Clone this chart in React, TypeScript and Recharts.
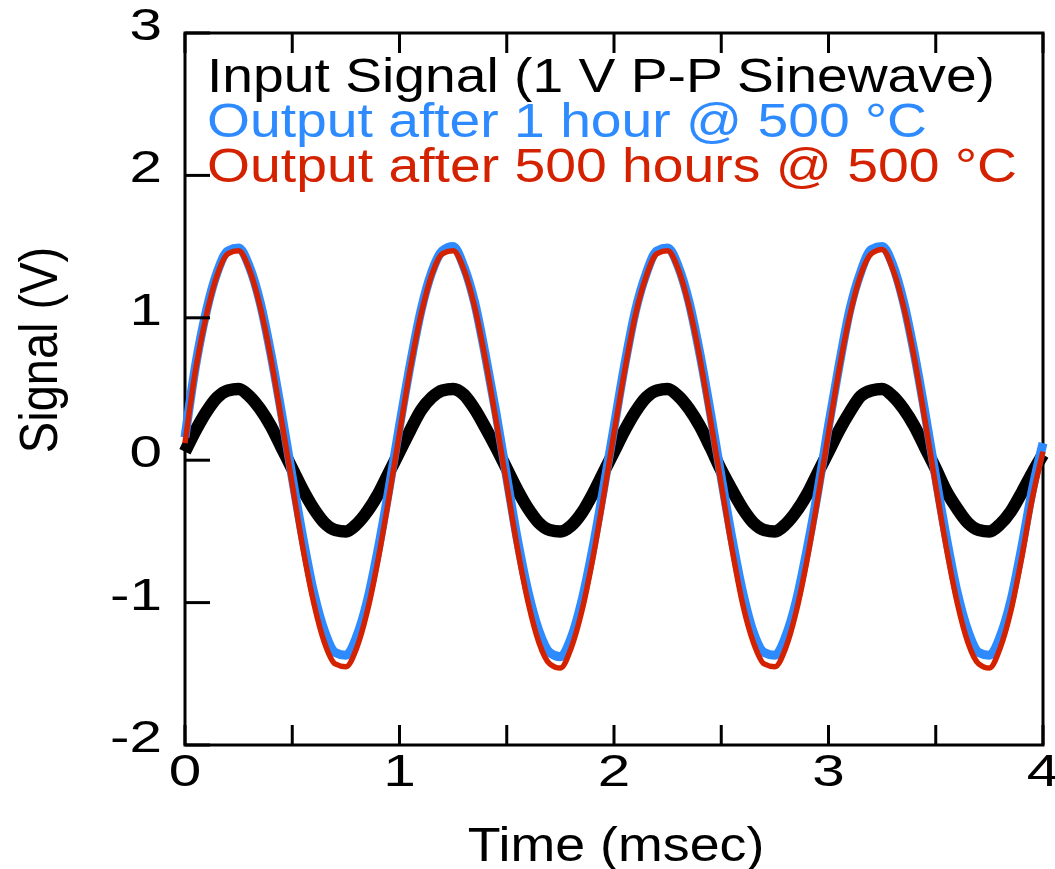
import { Line, LineChart, ReferenceArea, XAxis, YAxis } from 'recharts'

// time base, msec
const timeMs = [
  0, 0.05, 0.1, 0.15, 0.2, 0.25, 0.3, 0.35, 0.4, 0.45, 0.5, 0.55, 0.6, 0.65, 0.7, 0.75, 0.8, 0.85, 0.9, 0.95,
  1, 1.05, 1.1, 1.15, 1.2, 1.25, 1.3, 1.35, 1.4, 1.45, 1.5, 1.55, 1.6, 1.65, 1.7, 1.75, 1.8, 1.85, 1.9, 1.95,
  2, 2.05, 2.1, 2.15, 2.2, 2.25, 2.3, 2.35, 2.4, 2.45, 2.5, 2.55, 2.6, 2.65, 2.7, 2.75, 2.8, 2.85, 2.9, 2.95,
  3, 3.05, 3.1, 3.15, 3.2, 3.25, 3.3, 3.35, 3.4, 3.45, 3.5, 3.55, 3.6, 3.65, 3.7, 3.75, 3.8, 3.85, 3.9, 3.95,
  4,
]

// volts
const inputSignal = [
  0.06, 0.21, 0.34, 0.44, 0.49, 0.5, 0.45, 0.36, 0.24, 0.09, -0.06, -0.21, -0.34, -0.44, -0.49, -0.5, -0.45, -0.36, -0.24, -0.09,
  0.06, 0.21, 0.35, 0.44, 0.49, 0.5, 0.46, 0.36, 0.23, 0.09, -0.06, -0.21, -0.34, -0.44, -0.49, -0.5, -0.46, -0.37, -0.24, -0.09,
  0.06, 0.21, 0.34, 0.44, 0.49, 0.5, 0.45, 0.36, 0.24, 0.09, -0.07, -0.21, -0.34, -0.44, -0.49, -0.5, -0.45, -0.36, -0.24, -0.09,
  0.06, 0.21, 0.34, 0.45, 0.49, 0.5, 0.45, 0.36, 0.24, 0.09, -0.06, -0.22, -0.34, -0.44, -0.49, -0.5, -0.45, -0.36, -0.23, -0.09,
  0.04,
]

const output1h = [
  0.16, 0.67, 1.05, 1.32, 1.47, 1.49, 1.36, 1.11, 0.75, 0.33, -0.12, -0.55, -0.93, -1.2, -1.35, -1.37, -1.24, -0.99, -0.63, -0.21,
  0.24, 0.67, 1.05, 1.32, 1.47, 1.5, 1.36, 1.11, 0.74, 0.33, -0.12, -0.56, -0.93, -1.2, -1.35, -1.38, -1.25, -0.99, -0.63, -0.21,
  0.23, 0.67, 1.05, 1.31, 1.47, 1.49, 1.36, 1.11, 0.75, 0.33, -0.12, -0.55, -0.93, -1.21, -1.35, -1.37, -1.24, -0.99, -0.63, -0.22,
  0.24, 0.67, 1.06, 1.32, 1.48, 1.5, 1.37, 1.11, 0.75, 0.33, -0.12, -0.55, -0.93, -1.2, -1.35, -1.37, -1.24, -0.99, -0.62, -0.21,
  0.12,
]

const output500h = [
  0.12, 0.64, 1.02, 1.3, 1.45, 1.47, 1.34, 1.08, 0.72, 0.28, -0.17, -0.62, -1.0, -1.28, -1.43, -1.45, -1.32, -1.06, -0.7, -0.27,
  0.19, 0.64, 1.02, 1.3, 1.45, 1.47, 1.34, 1.08, 0.71, 0.28, -0.17, -0.62, -1.0, -1.28, -1.43, -1.46, -1.32, -1.06, -0.7, -0.27,
  0.19, 0.63, 1.02, 1.29, 1.45, 1.47, 1.34, 1.08, 0.72, 0.28, -0.17, -0.62, -1.01, -1.28, -1.43, -1.45, -1.32, -1.06, -0.7, -0.27,
  0.19, 0.64, 1.02, 1.3, 1.45, 1.48, 1.34, 1.08, 0.72, 0.28, -0.18, -0.62, -1.0, -1.28, -1.43, -1.46, -1.32, -1.06, -0.69, -0.27,
  0.06,
]

const xTicks = [0, 0.5, 1, 1.5, 2, 2.5, 3, 3.5, 4]
const yTicks = [-2, -1, 0, 1, 2, 3]

const legendLines = [
  { text: 'Input Signal (1 V P-P Sinewave)', color: '#000000', width: 788 },
  { text: 'Output after 1 hour @ 500 °C', color: '#2E8BFF', width: 720 },
  { text: 'Output after 500 hours @ 500 °C', color: '#D42200', width: 810 },
]

const data = timeMs.map((t, i) => ({
  t,
  input: inputSignal[i],
  out1: output1h[i],
  out500: output500h[i],
}))

const FONT = '"Liberation Sans", Arial, Helvetica, sans-serif'
const TICK_STRETCH = 1.3

function BottomTick(props: any) {
  const { x, y, payload } = props
  const v = payload.value
  return (
    <g>
      <line x1={x} y1={y} x2={x} y2={y - 20} stroke="#000" strokeWidth={3} />
      {Number.isInteger(v) && (
        <text
          transform={`translate(${x},${y + 41}) scale(${TICK_STRETCH},1)`}
          textAnchor="middle"
          fontSize={45}
          fontFamily={FONT}
          fill="#000"
        >
          {v}
        </text>
      )}
    </g>
  )
}

function TopTick(props: any) {
  const { x, y } = props
  return <line x1={x} y1={y} x2={x} y2={y + 20} stroke="#000" strokeWidth={3} />
}

function LeftTick(props: any) {
  const { x, y, payload } = props
  return (
    <g>
      <line x1={x} y1={y} x2={x + 25} y2={y} stroke="#000" strokeWidth={3} />
      <text
        transform={`translate(${x - 23},${y + 7}) scale(${TICK_STRETCH},1)`}
        textAnchor="end"
        fontSize={45}
        fontFamily={FONT}
        fill="#000"
      >
        {payload.value}
      </text>
    </g>
  )
}

function RightTick(props: any) {
  const { x, y } = props
  return <line x1={x} y1={y} x2={x - 25} y2={y} stroke="#000" strokeWidth={3} />
}

export default function App() {
  return (
    <div style={{ position: 'absolute', left: 0, top: 0, width: 1055, height: 869, background: '#fff' }}>
      <LineChart width={1055} height={869} data={data} margin={{ top: 0, right: 0, bottom: 0, left: 0 }}>
        <XAxis
          dataKey="t"
          type="number"
          domain={[0, 4]}
          ticks={xTicks}
          interval={0}
          height={124}
          axisLine={false}
          tickLine={false}
          tickSize={0}
          tickMargin={0}
          tick={<BottomTick />}
        />
        <XAxis
          xAxisId="top"
          orientation="top"
          dataKey="t"
          type="number"
          domain={[0, 4]}
          ticks={xTicks}
          interval={0}
          height={33}
          axisLine={false}
          tickLine={false}
          tickSize={0}
          tickMargin={0}
          tick={<TopTick />}
        />
        <YAxis
          type="number"
          domain={[-2, 3]}
          ticks={yTicks}
          interval={0}
          width={185}
          axisLine={false}
          tickLine={false}
          tickSize={0}
          tickMargin={0}
          tick={<LeftTick />}
        />
        <YAxis
          yAxisId="r"
          orientation="right"
          type="number"
          domain={[-2, 3]}
          ticks={yTicks}
          interval={0}
          width={12}
          axisLine={false}
          tickLine={false}
          tickSize={0}
          tickMargin={0}
          tick={<RightTick />}
        />
        <ReferenceArea x1={0} x2={4} y1={-2} y2={3} fill="none" fillOpacity={0} stroke="#000" strokeWidth={3} />
        <Line
          dataKey="input"
          type="monotone"
          stroke="#000000"
          strokeWidth={12.5}
          dot={false}
          activeDot={false}
          isAnimationActive={false}
        />
        <Line
          dataKey="out1"
          type="monotone"
          stroke="#2E8BFF"
          strokeWidth={9}
          dot={false}
          activeDot={false}
          isAnimationActive={false}
        />
        <Line
          dataKey="out500"
          type="monotone"
          stroke="#D42200"
          strokeWidth={5.5}
          dot={false}
          activeDot={false}
          isAnimationActive={false}
        />
      </LineChart>
      <svg
        width={1055}
        height={869}
        style={{ position: 'absolute', left: 0, top: 0, pointerEvents: 'none' }}
      >
        {legendLines.map((l, i) => (
          <text
            key={l.text}
            x={207}
            y={92 + i * 45}
            fontSize={48}
            fontFamily={FONT}
            fill={l.color}
            textLength={l.width}
            lengthAdjust="spacingAndGlyphs"
          >
            {l.text}
          </text>
        ))}
        <text
          transform="translate(616,861) scale(1.12,1)"
          textAnchor="middle"
          fontSize={48}
          fontFamily={FONT}
          fill="#000"
        >
          Time (msec)
        </text>
        <text
          transform="translate(57,350) scale(1.14,1) rotate(-90)"
          textAnchor="middle"
          fontSize={47}
          fontFamily={FONT}
          fill="#000"
        >
          Signal (V)
        </text>
      </svg>
    </div>
  )
}
